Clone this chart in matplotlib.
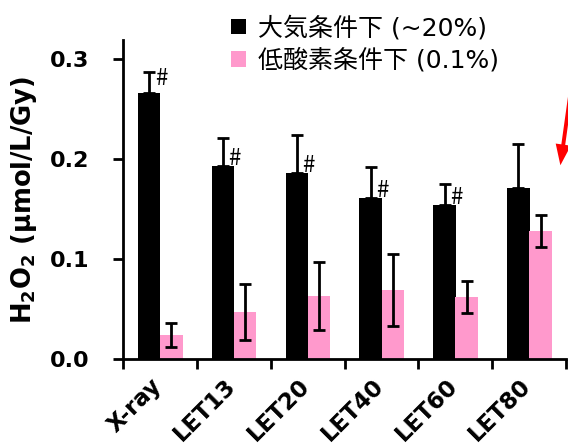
import matplotlib.pyplot as plt
import numpy as np

plt.rcParams['font.family'] = ['DejaVu Sans', 'Noto Sans CJK JP']

categories = ["X-ray", "LET13", "LET20", "LET40", "LET60", "LET80"]
air = [0.266, 0.193, 0.186, 0.161, 0.154, 0.171]
air_err = [0.021, 0.028, 0.038, 0.031, 0.021, 0.044]
hypoxia = [0.024, 0.047, 0.063, 0.069, 0.062, 0.128]
hypoxia_err = [0.012, 0.028, 0.034, 0.036, 0.016, 0.016]
significant = [True, True, True, True, True, False]

labels = ["大気条件下 (~20%)", "低酸素条件下 (0.1%)"]
pink = "#FF99CC"

W, H = 568, 445
fig = plt.figure(figsize=(W / 100, H / 100), dpi=100)
ax = fig.add_axes([123 / W, 1 - 359 / H, (566 - 123) / W, (359 - 40) / H])

x = np.arange(len(categories))
w = 0.305
xa = x - 0.145
xh = x + 0.155

b1 = ax.bar(xa, air, w, color="black", label=labels[0])
ax.errorbar(xa, air, yerr=[np.zeros(len(air)), air_err], fmt="none",
            ecolor="black", elinewidth=2, capsize=4.5, capthick=2)
b2 = ax.bar(xh, hypoxia, w, color=pink, label=labels[1])
ax.errorbar(xh, hypoxia, yerr=hypoxia_err, fmt="none",
            ecolor="black", elinewidth=2, capsize=4.5, capthick=2)

# "#" marks sit just right of the bar centre; the X-ray one is raised up to its cap
hash_dy = [6, 1, 1, 1, 1, 0]
for xi, v, s, dy in zip(xa, air, significant, hash_dy):
    if s:
        ax.annotate("#", (xi, v), xytext=(4, dy), textcoords="offset points",
                    ha="left", va="baseline", fontsize=16,
                    family=["Noto Sans CJK JP"])

ax.set_xlim(-0.5, len(categories) - 0.5)
ax.set_ylim(0, 0.319)
ax.set_yticks([0.0, 0.1, 0.2, 0.3])
ax.set_yticklabels(["0.0", "0.1", "0.2", "0.3"], fontsize=16, fontweight="bold")
ax.set_xticks(np.arange(len(categories) + 1) - 0.5)
ax.set_xticklabels([])
ax.set_xticks(x - 0.13, minor=True)
ax.set_xticklabels(categories, minor=True, rotation=45, ha="right",
                   rotation_mode="anchor", fontsize=16.5, fontweight="bold")
ax.tick_params(axis="x", which="minor", length=0, pad=11)
ax.tick_params(axis="x", which="major", length=7, width=2, direction="out")
ax.tick_params(axis="y", length=7, width=2, direction="out", pad=17)
for side in ["top", "right"]:
    ax.spines[side].set_visible(False)
for side in ["left", "bottom"]:
    ax.spines[side].set_linewidth(2)

ax.set_ylabel("H$_\\mathbf{2}$O$_\\mathbf{2}$ (µmol/L/Gy)", fontsize=18.5,
              fontweight="bold", labelpad=8)

fig.legend(handles=[b1, b2], labels=labels, loc="upper left",
           bbox_to_anchor=(218 / W, 1 - 3 / H), frameon=False, borderpad=0,
           handlelength=0.6, handleheight=0.6, handletextpad=0.5,
           labelspacing=0.3, prop={"size": 18})

ax.annotate("", xy=(560, H - 168), xycoords="figure pixels",
            xytext=(573, H - 75), textcoords="figure pixels",
            arrowprops=dict(arrowstyle="simple,head_length=1.5,head_width=1.1,tail_width=0.28",
                            color="red", lw=0), annotation_clip=False)

fig.savefig("out.png", dpi=100)
